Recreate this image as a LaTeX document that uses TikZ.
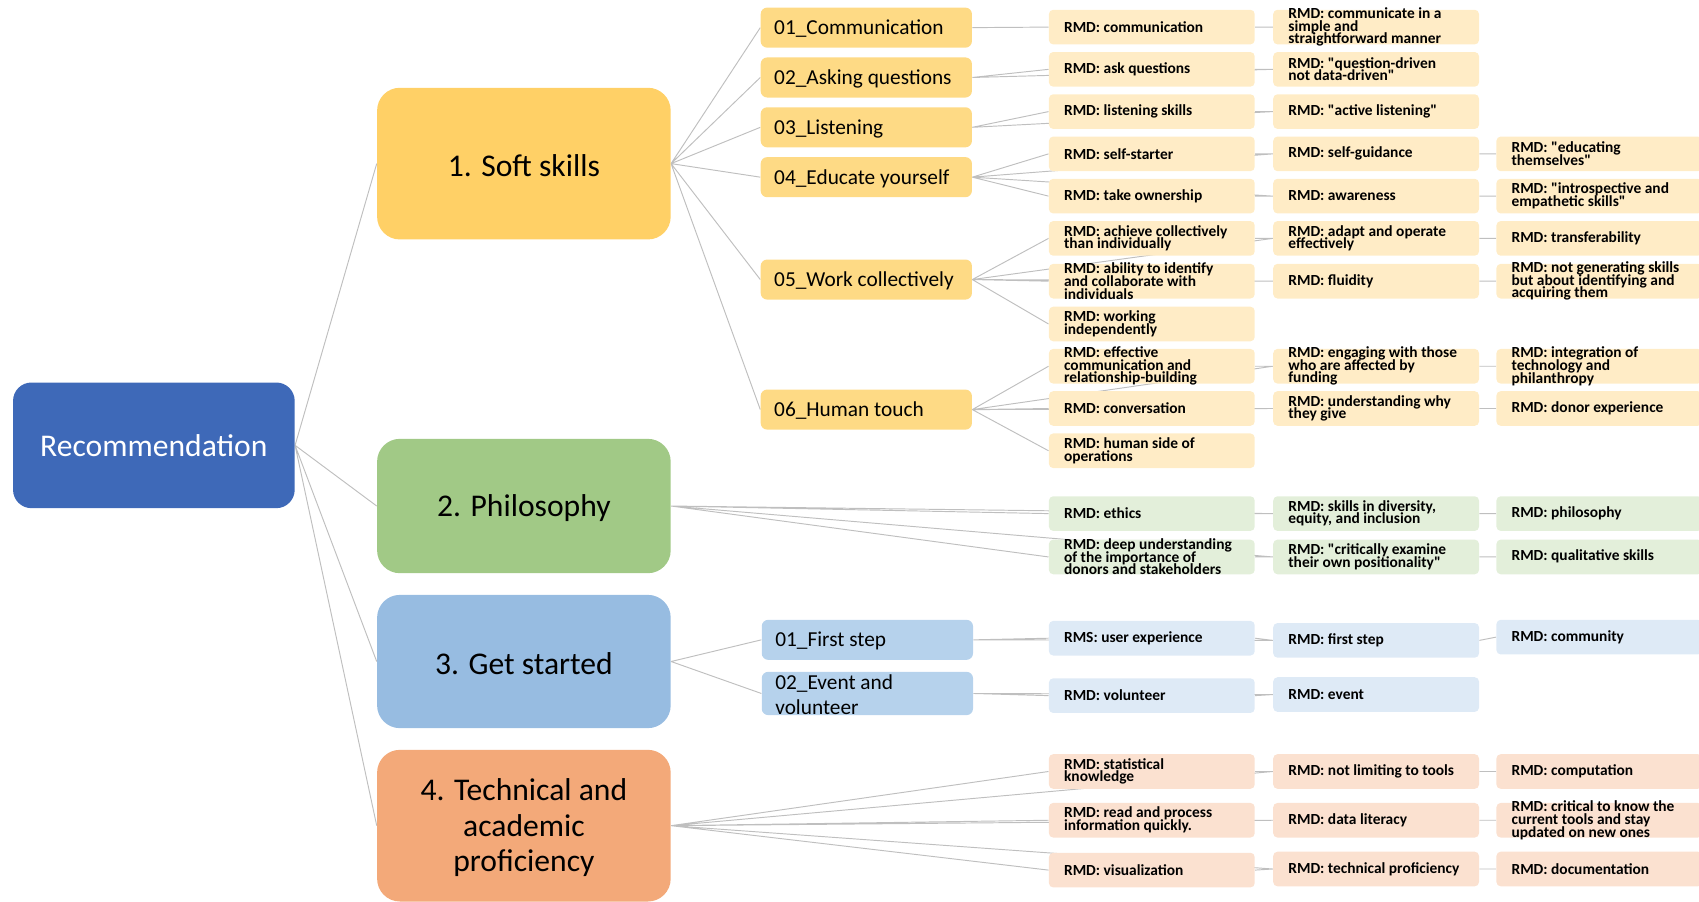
\documentclass[tikz,border=0pt]{standalone}
\usepackage{fontspec}
\setmainfont{Carlito}
\usepackage{tikz}
\usetikzlibrary{backgrounds}
\definecolor{rootblue}{RGB}{62,105,184}
\definecolor{softfill}{RGB}{255,208,102}
\definecolor{philfill}{RGB}{161,201,134}
\definecolor{startfill}{RGB}{151,188,225}
\definecolor{techfill}{RGB}{243,169,121}
\definecolor{softsub}{RGB}{254,218,133}
\definecolor{startsub}{RGB}{182,210,236}
\definecolor{softleaf}{RGB}{255,236,198}
\definecolor{philleaf}{RGB}{227,239,218}
\definecolor{startleaf}{RGB}{222,234,246}
\definecolor{techleaf}{RGB}{251,225,208}
\definecolor{linegray}{RGB}{191,191,191}
\newcommand{\qd}{\textquotedbl}
\tikzset{
  rootbox/.style={rectangle, fill=rootblue, text=white, minimum width=5.2cm, minimum height=2.32cm, inner sep=0pt, rounded corners=0.34cm,
    execute at begin node={\begin{minipage}[c][0pt][c]{5cm}\centering\vspace*{2.3pt}\fontsize{16.6}{19}\selectfont},
    execute at end node={\end{minipage}}},
  topic/.style={rectangle, minimum width=5.42cm, inner sep=0pt, rounded corners=0.42cm,
    execute at begin node={\begin{minipage}[c][0pt][c]{5.2cm}\centering\vspace*{4.5pt}\fontsize{16.6}{18.7}\selectfont},
    execute at end node={\end{minipage}}},
  sub/.style={rectangle, minimum width=3.9cm, minimum height=0.74cm, inner sep=0pt, rounded corners=0.12cm,
    execute at begin node={\begin{minipage}[c][0pt][c]{3.4cm}\raggedright\vspace*{4pt}\fontsize{11.2}{13.4}\selectfont},
    execute at end node={\end{minipage}}},
  leaf/.style={rectangle, minimum width=3.8cm, minimum height=0.64cm, inner sep=0pt, rounded corners=0.08cm,
    execute at begin node={\begin{minipage}[c][0pt][c]{3.24cm}\raggedright\vspace*{2.3pt}\fontsize{8.1}{6.7}\selectfont\bfseries\lineskiplimit=-\maxdimen},
    execute at end node={\end{minipage}}},
  link/.style={draw=linegray, line width=0.5pt}
}

\begin{document}
\begin{tikzpicture}[x=0.02cm, y=-0.02cm]
  \useasboundingbox (0,0) rectangle (1568,832);

  % Root and the four topics
  \node[rootbox] (root) at (142,411) {Recommendation};
  \node[topic, fill=softfill, minimum height=2.8cm] (soft) at (483.5,151) {1. Soft skills};
  \node[topic, fill=philfill, minimum height=2.48cm] (phil) at (483.5,467) {2. Philosophy};
  \node[topic, fill=startfill, minimum height=2.46cm] (start) at (483.5,610.5) {3. Get started};
  \node[topic, fill=techfill, minimum height=2.8cm] (tech) at (483.5,762) {4. Technical and\\academic\\proficiency};

  % Soft skills
  \node[sub, fill=softsub] (comm) at (799.5,25.5) {01\_Communication};
  \node[sub, fill=softsub] (ask) at (799.5,71.5) {02\_Asking questions};
  \node[sub, fill=softsub] (listen) at (799.5,117.5) {03\_Listening};
  \node[sub, fill=softsub] (educate) at (799.5,163.5) {04\_Educate yourself};
  \node[sub, fill=softsub] (work) at (799.5,258) {05\_Work collectively};
  \node[sub, fill=softsub] (human) at (799.5,378) {06\_Human touch};

  \node[leaf, fill=softleaf] (rcomm) at (1063,25) {RMD: communication};
  \node[leaf, fill=softleaf] (rask) at (1063,64) {RMD: ask questions};
  \node[leaf, fill=softleaf] (rlisten) at (1063,103) {RMD: listening skills};
  \node[leaf, fill=softleaf] (rstarter) at (1063,142) {RMD: self-starter};
  \node[leaf, fill=softleaf] (rowner) at (1063,181) {RMD: take ownership};
  \node[leaf, fill=softleaf] (rachieve) at (1063,220) {RMD: achieve collectively\\than individually};
  \node[leaf, fill=softleaf] (rability) at (1063,259.5) {RMD: ability to identify\\and collaborate with\\individuals};
  \node[leaf, fill=softleaf] (rworking) at (1063,299) {RMD: working\\independently};
  \node[leaf, fill=softleaf] (reffective) at (1063,338) {RMD: effective\\communication and\\relationship-building};
  \node[leaf, fill=softleaf] (rconv) at (1063,377) {RMD: conversation};
  \node[leaf, fill=softleaf] (rhuman) at (1063,416) {RMD: human side of\\operations};

  \node[leaf, fill=softleaf] (rsimple) at (1270,25) {RMD: communicate in a\\simple and\\straightforward manner};
  \node[leaf, fill=softleaf] (rquestion) at (1270,64) {RMD: \qd question-driven\\not data-driven\qd};
  \node[leaf, fill=softleaf] (ractive) at (1270,103) {RMD: \qd active listening\qd};
  \node[leaf, fill=softleaf] (rguidance) at (1270,142) {RMD: self-guidance};
  \node[leaf, fill=softleaf] (raware) at (1270,181) {RMD: awareness};
  \node[leaf, fill=softleaf] (radapt) at (1270,220) {RMD: adapt and operate\\effectively};
  \node[leaf, fill=softleaf] (rfluid) at (1270,259.5) {RMD: fluidity};
  \node[leaf, fill=softleaf] (rengage) at (1270,338) {RMD: engaging with those\\who are affected by\\funding};
  \node[leaf, fill=softleaf] (rwhy) at (1270,377) {RMD: understanding why\\they give};

  \node[leaf, fill=softleaf] (reducating) at (1476,142) {RMD: \qd educating\\themselves\qd};
  \node[leaf, fill=softleaf] (rintro) at (1476,181) {RMD: \qd introspective and\\empathetic skills\qd};
  \node[leaf, fill=softleaf] (rtransfer) at (1476,220) {RMD: transferability};
  \node[leaf, fill=softleaf] (rgenerate) at (1476,259.5) {RMD: not generating skills\\but about identifying and\\acquiring them};
  \node[leaf, fill=softleaf] (rintegrate) at (1476,338) {RMD: integration of\\technology and\\philanthropy};
  \node[leaf, fill=softleaf] (rdonor) at (1476,377) {RMD: donor experience};

  % Philosophy
  \node[leaf, fill=philleaf] (rethics) at (1063,474) {RMD: ethics};
  \node[leaf, fill=philleaf] (rdeep) at (1063,514) {RMD: deep understanding\\of the importance of\\donors and stakeholders};
  \node[leaf, fill=philleaf] (rdiversity) at (1270,474) {RMD: skills in diversity,\\equity, and inclusion};
  \node[leaf, fill=philleaf] (rcritical) at (1270,514) {RMD: \qd critically examine\\their own positionality\qd};
  \node[leaf, fill=philleaf] (rphilo) at (1476,474) {RMD: philosophy};
  \node[leaf, fill=philleaf] (rqual) at (1476,514) {RMD: qualitative skills};

  % Get started
  \node[sub, fill=startsub] (first) at (800.5,590.5) {01\_First step};
  \node[sub, fill=startsub, minimum height=0.8cm] (event) at (800.5,640) {02\_Event and\\volunteer};
  \node[leaf, fill=startleaf] (rux) at (1063,589) {RMS: user experience};
  \node[leaf, fill=startleaf] (rvolunteer) at (1063,642) {RMD: volunteer};
  \node[leaf, fill=startleaf] (rfirst) at (1270,591) {RMD: first step};
  \node[leaf, fill=startleaf] (revent) at (1270,641) {RMD: event};
  \node[leaf, fill=startleaf] (rcommunity) at (1476,588) {RMD: community};

  % Technical and academic proficiency
  \node[leaf, fill=techleaf] (rstat) at (1063,712) {RMD: statistical\\knowledge};
  \node[leaf, fill=techleaf] (rread) at (1063,757) {RMD: read and process\\information quickly.};
  \node[leaf, fill=techleaf] (rvis) at (1063,803) {RMD: visualization};
  \node[leaf, fill=techleaf] (rtools) at (1270,712) {RMD: not limiting to tools};
  \node[leaf, fill=techleaf] (rliteracy) at (1270,757) {RMD: data literacy};
  \node[leaf, fill=techleaf] (rtech) at (1270,802) {RMD: technical proficiency};
  \node[leaf, fill=techleaf] (rcompute) at (1476,712) {RMD: computation};
  \node[leaf, fill=techleaf] (rcurrent) at (1476,757) {RMD: critical to know the\\current tools and stay\\updated on new ones};
  \node[leaf, fill=techleaf] (rdoc) at (1476,802) {RMD: documentation};

  % connectors behind the boxes
  \begin{scope}[on background layer]
    \draw[link] (root.east) -- (soft.west) (root.east) -- (phil.west) (root.east) -- (start.west) (root.east) -- (tech.west);
    \draw[link] (soft.east) -- (comm.west) (soft.east) -- (ask.west) (soft.east) -- (listen.west)
      (soft.east) -- (educate.west) (soft.east) -- (work.west) (soft.east) -- (human.west);
    \draw[link] (comm.east) -- (rcomm.west) (rcomm.east) -- (rsimple.west);
    \draw[link] (ask.east) -- (rask.west) (ask.east) -- (rquestion.west) (rask.east) -- (rquestion.west);
    \draw[link] (listen.east) -- (rlisten.west) (listen.east) -- (ractive.west) (rlisten.east) -- (ractive.west);
    \draw[link] (educate.east) -- (rstarter.west) (educate.east) -- (rowner.west)
      (educate.east) -- (rguidance.west) (educate.east) -- (raware.west)
      (rstarter.east) -- (rguidance.west) (rowner.east) -- (raware.west)
      (rguidance.east) -- (reducating.west) (raware.east) -- (rintro.west);
    \draw[link] (work.east) -- (rachieve.west) (work.east) -- (rability.west) (work.east) -- (rworking.west)
      (work.east) -- (radapt.west) (work.east) -- (rfluid.west)
      (rachieve.east) -- (radapt.west) (rability.east) -- (rfluid.west)
      (radapt.east) -- (rtransfer.west) (rfluid.east) -- (rgenerate.west);
    \draw[link] (human.east) -- (reffective.west) (human.east) -- (rconv.west) (human.east) -- (rhuman.west)
      (human.east) -- (rengage.west) (human.east) -- (rwhy.west)
      (reffective.east) -- (rengage.west) (rconv.east) -- (rwhy.west)
      (rengage.east) -- (rintegrate.west) (rwhy.east) -- (rdonor.west);
    \draw[link] (phil.east) -- (rethics.west) (phil.east) -- (rdeep.west)
      (phil.east) -- (rdiversity.west) (phil.east) -- (rcritical.west)
      (rethics.east) -- (rdiversity.west) (rdeep.east) -- (rcritical.west)
      (rdiversity.east) -- (rphilo.west) (rcritical.east) -- (rqual.west);
    \draw[link] (start.east) -- (first.west) (start.east) -- (event.west)
      (first.east) -- (rux.west) (first.east) -- (rfirst.west) (rux.east) -- (rfirst.west)
      (rfirst.east) -- (rcommunity.west)
      (event.east) -- (rvolunteer.west) (event.east) -- (revent.west) (rvolunteer.east) -- (revent.west);
    \draw[link] (tech.east) -- (rstat.west) (tech.east) -- (rread.west) (tech.east) -- (rvis.west)
      (tech.east) -- (rtools.west) (tech.east) -- (rliteracy.west) (tech.east) -- (rtech.west)
      (rstat.east) -- (rtools.west) (rread.east) -- (rliteracy.west) (rvis.east) -- (rtech.west)
      (rtools.east) -- (rcompute.west) (rliteracy.east) -- (rcurrent.west) (rtech.east) -- (rdoc.west);
  \end{scope}
\end{tikzpicture}
\end{document}
